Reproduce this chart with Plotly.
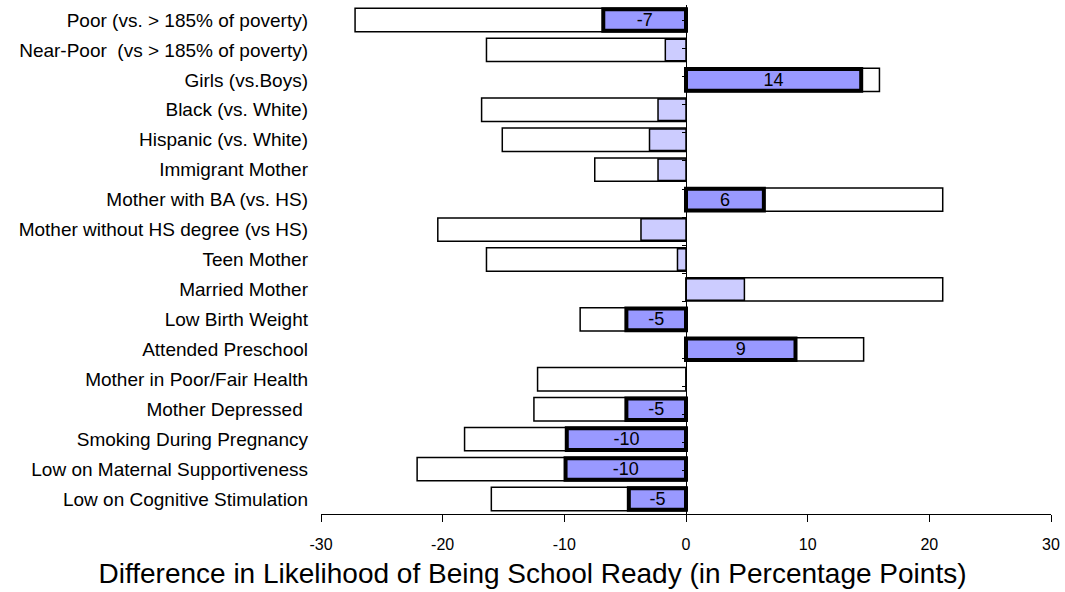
import plotly.graph_objects as go

categories = [
    "Poor (vs. > 185% of poverty)",
    "Near-Poor  (vs > 185% of poverty)",
    "Girls (vs.Boys)",
    "Black (vs. White)",
    "Hispanic (vs. White)",
    "Immigrant Mother",
    "Mother with BA (vs. HS)",
    "Mother without HS degree (vs HS)",
    "Teen Mother",
    "Married Mother",
    "Low Birth Weight",
    "Attended Preschool",
    "Mother in Poor/Fair Health",
    "Mother Depressed ",
    "Smoking During Pregnancy",
    "Low on Maternal Supportiveness",
    "Low on Cognitive Stimulation",
]
unadjusted = [-27.2, -16.4, 15.9, -16.8, -15.1, -7.5, 21.1, -20.4, -16.4, 21.1,
              -8.7, 14.6, -12.2, -12.5, -18.2, -22.1, -16.0]
adjusted = [-6.8, -1.7, 14.4, -2.3, -3.0, -2.3, 6.4, -3.7, -0.7, 4.8,
            -4.9, 9.0, 0.0, -4.9, -9.8, -9.9, -4.7]
significant = [True, False, True, False, False, False, True, False, False, False,
               True, True, False, True, True, True, True]
x_ticks = [-30, -20, -10, 0, 10, 20, 30]

FONT = "Liberation Sans, Arial, sans-serif"

inner_colors = ["#9999FF" if s else "#CCCCFF" for s in significant]
inner_lw = [4 if s else 1.5 for s in significant]
inner_text = [str(int(round(v))) if s else "" for v, s in zip(adjusted, significant)]

fig = go.Figure()
fig.add_trace(go.Bar(
    y=categories, x=unadjusted, orientation="h",
    marker=dict(color="white", line=dict(color="black", width=1.5)),
    width=0.78, hoverinfo="skip", showlegend=False,
))
fig.add_trace(go.Bar(
    y=categories, x=adjusted, orientation="h",
    marker=dict(color=inner_colors, line=dict(color="black", width=inner_lw)),
    width=0.72, text=inner_text, textposition="inside", insidetextanchor="middle",
    textangle=0, constraintext="none",
    textfont=dict(family=FONT, size=18, color="black"),
    hoverinfo="skip", showlegend=False,
))
# invisible trace to give the zero-position y axis its categories
fig.add_trace(go.Scatter(
    y=categories, x=[0] * len(categories), yaxis="y2", mode="markers",
    marker=dict(opacity=0), hoverinfo="skip", showlegend=False,
))

fig.update_layout(
    width=1065, height=592,
    margin=dict(l=321, r=14, t=5, b=78, autoexpand=False),
    barmode="overlay",
    plot_bgcolor="white", paper_bgcolor="white",
    font=dict(family=FONT, color="black"),
    title=dict(text="Difference in Likelihood of Being School Ready (in Percentage Points)",
               font=dict(family=FONT, size=28, color="black"),
               x=0.5, xref="container", xanchor="center",
               y=0.032, yref="container", yanchor="middle"),
    xaxis=dict(
        range=[-30, 30], tickvals=x_ticks, ticktext=[str(t) for t in x_ticks],
        showgrid=False, zeroline=False, showline=True, linecolor="black", linewidth=1,
        ticks="outside", ticklen=7, tickcolor="black", automargin=False,
        tickfont=dict(family=FONT, size=16), ticklabelstandoff=9,
    ),
    yaxis=dict(
        categoryorder="array", categoryarray=categories, autorange="reversed",
        showgrid=False, zeroline=False, showline=False, ticks="", automargin=False,
        tickfont=dict(family=FONT, size=19), ticklabelstandoff=12,
    ),
    yaxis2=dict(
        overlaying="y", anchor="free", position=0.5,
        categoryorder="array", categoryarray=categories, autorange="reversed",
        showgrid=False, zeroline=False, showline=True, linecolor="black", linewidth=1,
        ticks="outside", tickson="boundaries", ticklen=4, tickcolor="black",
        showticklabels=False, side="left", automargin=False,
    ),
)

fig.write_html("out.html", config={"displayModeBar": False},
               post_script="document.body.style.margin='0';")
